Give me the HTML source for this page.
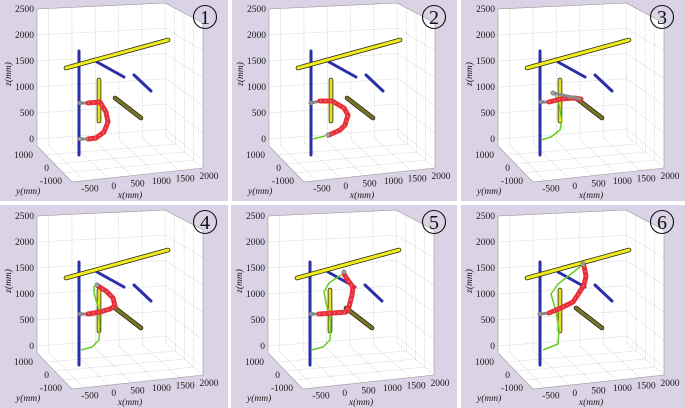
<!DOCTYPE html>
<html><head><meta charset="utf-8"><style>
html,body{margin:0;padding:0;background:#fff;}
svg{display:block;font-family:"Liberation Serif",serif;}
</style></head><body>
<svg id="fig" width="685" height="408" viewBox="0 0 685 408" xmlns="http://www.w3.org/2000/svg">
<rect width="685" height="408" fill="#ffffff"/>
</svg>
<script>
const zTicks=[0,500,1000,1500,2000,2500];
const xTicks=[-500,0,500,1000,1500,2000];
const yTicks=[1000,0,-1000];
const panelNumbers=["1","2","3","4","5","6"];
const panelOrigins=[[0,0,228,201],[232,0,225,201],[461,0,224,201],[0,205,228,203],[231,205,226,203],[461,205,224,203]];
const armPaths=[
 [[88,103],[100,102],[106,112],[108,122],[104,132],[96,138],[88,139]],
 [[88,101],[100,101],[112,108],[116,115],[113,125],[108,130],[97,135]],
 [[88,102],[100,99],[112,98],[120,99]],
 [[88,107],[100,105],[110,102],[115,99],[113,91],[106,84],[98,79]],
 [[88,107],[102,106],[115,105],[118,100],[121,88],[122,80],[116,72],[113,67]],
 [[88,106],[100,101],[112,95],[118,86],[123,78],[125,69],[123,59]]
];
const armBase=[[80,103,80,139],[79,103,96,135],[80,102,92,93],[80,107,97,78],[80,107,113,65],[79,107,122,57]];
const greenPaths=[
 [],
 [[81,139],[93,136]],
 [[80,140],[90,137],[99,130],[101,120],[98,105],[94,95]],
 [[81,143],[92,140],[99,133],[100,118],[98,100],[94,86],[94,79]],
 [[81,143],[92,140],[99,133],[100,115],[95,96],[93,85],[98,76],[110,68]],
 [[82,143],[97,137],[98,123],[95,104],[90,87],[97,77],[110,67],[120,59]]
];
const svg=document.getElementById('fig');
const NS='http://www.w3.org/2000/svg';
function mk(tag,attrs,parent){const e=document.createElementNS(NS,tag);for(const k in attrs)e.setAttribute(k,attrs[k]);parent.appendChild(e);return e;}
function lerp(a,b,t){return [a[0]+(b[0]-a[0])*t,a[1]+(b[1]-a[1])*t];}
const BL=[37,146],BR=[166,136],TR=[165,3],TL=[37,9],FR=[203,168],FRT=[203,23],FL=[72,182];
function zy(z){return 139-z*(130/2500);}
function xt(x){return (x+750)/2750;}
function pts(a){return a.map(p=>p.join(',')).join(' ');}
panelOrigins.forEach((o,i)=>{
 const dy=i>=3?2:0;
 const g=mk('g',{transform:`translate(${o[0]},${o[1]})`},svg);
 
 
 mk('rect',{x:0,y:0,width:o[2],height:o[3],fill:'#dad3e6'},g);
 const c=mk('g',{transform:`translate(0,${dy})`},g);
 const box=mk('polygon',{points:pts([TL,TR,FRT,FR,FL,BL]),fill:'#ffffff'},c);
 
 
 const grid=mk('g',{stroke:'#c4c4c4','stroke-width':0.6,'stroke-dasharray':'1.2,1.2',fill:'none'},c);
 
 
 xTicks.forEach(x=>{const t=xt(x);const b=lerp(BL,BR,t),tp=lerp(TL,TR,t),f=lerp(FL,FR,t);
  mk('line',{x1:b[0],y1:b[1],x2:tp[0],y2:tp[1]},grid);mk('line',{x1:b[0],y1:b[1],x2:f[0],y2:f[1]},grid);});
 zTicks.forEach(z=>{const t=(146-zy(z))/137;const l=lerp(BL,TL,t),r=lerp(BR,TR,t),f=lerp(FR,FRT,t);
  mk('line',{x1:l[0],y1:l[1],x2:r[0],y2:r[1]},grid);mk('line',{x1:r[0],y1:r[1],x2:f[0],y2:f[1]},grid);});
 [0.25,0.5,0.75].forEach(t=>{const a=lerp(BL,FL,t),b=lerp(BR,FR,t),tp=lerp(TR,FRT,t);
  mk('line',{x1:a[0],y1:a[1],x2:b[0],y2:b[1]},grid);mk('line',{x1:b[0],y1:b[1],x2:tp[0],y2:tp[1]},grid);});
 mk('polyline',{points:pts([BL,TL,TR,FRT,FR,FL,BL]),fill:'none',stroke:'#9a9a9a','stroke-width':0.6},c);
 const lab={'font-size':9.5,fill:'#1a1a1a'};
 zTicks.forEach(z=>{const t=mk('text',Object.assign({x:34,y:zy(z)+3,'text-anchor':'end'},lab),c);t.textContent=z;
  });
 xTicks.forEach(x=>{const f=lerp(FL,FR,xt(x));const t=mk('text',Object.assign({x:f[0]+6,y:f[1]+11,'text-anchor':'middle'},lab),c);t.textContent=x;
  });
 const yPos=[[33,158],[49,171],[62,184]];
 yTicks.forEach((y,k)=>{const t=mk('text',Object.assign({x:yPos[k][0],y:yPos[k][1],'text-anchor':'end'},lab),c);t.textContent=y;
  });
 let t=mk('text',Object.assign({x:16,y:194,'font-style':'italic'},lab),c);t.textContent='y(mm)';
 
 t=mk('text',Object.assign({x:130,y:198,'font-style':'italic','text-anchor':'middle'},lab),c);t.textContent='x(mm)';
 
 t=mk('text',Object.assign({x:0,y:0,'font-style':'italic','text-anchor':'middle',transform:'translate(11,74) rotate(-90)'},lab),c);t.textContent='z(mm)';
 
 function rod(a,b,col,w,name){const gg=mk('g',{},c);
  mk('line',{x1:a[0],y1:a[1],x2:b[0],y2:b[1],stroke:'#2a2a10','stroke-width':w+1.6,'stroke-linecap':'round'},gg);
  mk('line',{x1:a[0],y1:a[1],x2:b[0],y2:b[1],stroke:col,'stroke-width':w,'stroke-linecap':'round'},gg);}
 const od=dy+1*(i>=3);
 rod([99,80+od],[99,121+od],'#e6e020',3,'yellow-vertical-rod');
 rod([115,98+od],[141,118+od],'#77742a',3,'olive-diagonal-rod');
 const bl=mk('g',{stroke:'#2a2ea8','stroke-width':3,'stroke-linecap':'round'},c);
 
 mk('line',{x1:79,y1:(i>=3?55:51),x2:79,y2:155+od},bl);
 mk('line',{x1:97,y1:62+od,x2:124,y2:77+od},bl);
 mk('line',{x1:134,y1:75+od,x2:151,y2:91+od},bl);
 rod([66,68+od],[168,40+od],'#f0ea20',3,'yellow-horizontal-bar');
 if(greenPaths[i].length){const gp=mk('polyline',{points:pts(greenPaths[i]),fill:'none',stroke:'#66cc22','stroke-width':1.5,'stroke-linejoin':'round'},c);
  }
 const b=armBase[i];
 const arm=mk('g',{},c);
 mk('line',{x1:b[0],y1:b[1],x2:armPaths[i][0][0],y2:armPaths[i][0][1],stroke:'#8a8a8a','stroke-width':3},arm);
 mk('polyline',{points:pts(armPaths[i]),fill:'none',stroke:'#e8303a','stroke-width':5,'stroke-linejoin':'round','stroke-linecap':'round'},arm);
 mk('polyline',{points:pts(armPaths[i]),fill:'none',stroke:'#ffb0b0','stroke-width':1,'stroke-dasharray':'1,4'},arm);
 const last=armPaths[i][armPaths[i].length-1];
 mk('line',{x1:last[0],y1:last[1],x2:b[2],y2:b[3],stroke:'#8a8a8a','stroke-width':3},arm);
 mk('circle',{cx:b[0],cy:b[1],r:2.2,fill:'#9090a0',stroke:'#555','stroke-width':0.5},arm);
 mk('circle',{cx:b[2],cy:b[3],r:2.2,fill:'#a0a0a0',stroke:'#555','stroke-width':0.5},arm);
 const ng=mk('g',{},g);
 mk('circle',{cx:o[2]-23,cy:17,r:11.5,fill:'none',stroke:'#111','stroke-width':1.1},ng);
 t=mk('text',{x:o[2]-23,y:24,'text-anchor':'middle','font-size':20,fill:'#111'},ng);t.textContent=panelNumbers[i];
});
</script>
</body></html>
